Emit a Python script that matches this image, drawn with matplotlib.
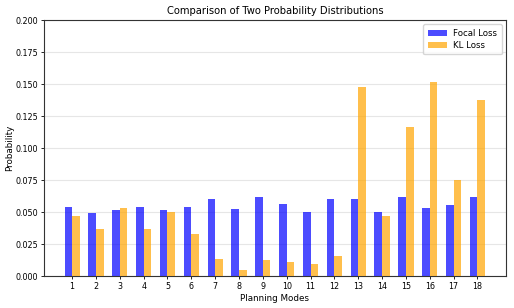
import numpy as np
import matplotlib
matplotlib.use("Agg")
import matplotlib.pyplot as plt

modes = list(range(1, 19))
focal_loss = [0.0537, 0.0490, 0.0516, 0.0542, 0.0513, 0.0540, 0.0600, 0.0520, 0.0620,
              0.0560, 0.0503, 0.0605, 0.0605, 0.0498, 0.0615, 0.0531, 0.0555, 0.0615]
kl_loss = [0.0466, 0.0365, 0.0534, 0.0365, 0.0500, 0.0326, 0.0133, 0.0050, 0.0125,
           0.0112, 0.0091, 0.0159, 0.1474, 0.0466, 0.1167, 0.1513, 0.0748, 0.1375]

fig = plt.figure(figsize=(5.14, 3.08), dpi=100)
ax = fig.add_axes([44/514, 1-276/308, (506-44)/514, (276-20)/308])

x = np.array(modes)
w = 0.32
ax.bar(x - w/2, focal_loss, w, color='blue', alpha=0.7, label='Focal Loss', zorder=3)
ax.bar(x + w/2, kl_loss, w, color='orange', alpha=0.7, label='KL Loss', zorder=3)

ax.set_xlim(-0.18, 19.2)
ax.set_ylim(0, 0.2)
ax.set_xticks(modes)
ax.set_xticklabels([str(m) for m in modes])
ax.set_yticks([0, 0.025, 0.05, 0.075, 0.1, 0.125, 0.15, 0.175, 0.2])
ax.set_yticklabels(['0.000', '0.025', '0.050', '0.075', '0.100', '0.125', '0.150', '0.175', '0.200'])
ax.tick_params(labelsize=5.8, length=2.5, width=0.6, pad=2)
ax.yaxis.grid(True, color='#e6e6e6', linewidth=0.8, zorder=0)
ax.set_axisbelow(True)
for s in ax.spines.values():
    s.set_linewidth(0.8)
    s.set_color('#333333')

ax.set_title('Comparison of Two Probability Distributions', fontsize=7.2, pad=4)
ax.set_xlabel('Planning Modes', fontsize=6.3, labelpad=2)
ax.set_ylabel('Probability', fontsize=6.3)
ax.yaxis.set_label_coords(-0.064, 0.5)
ax.legend(loc='upper right', fontsize=6.2, handlelength=2.2, borderpad=0.5, labelspacing=0.4)

fig.savefig('out.png', dpi=100)
